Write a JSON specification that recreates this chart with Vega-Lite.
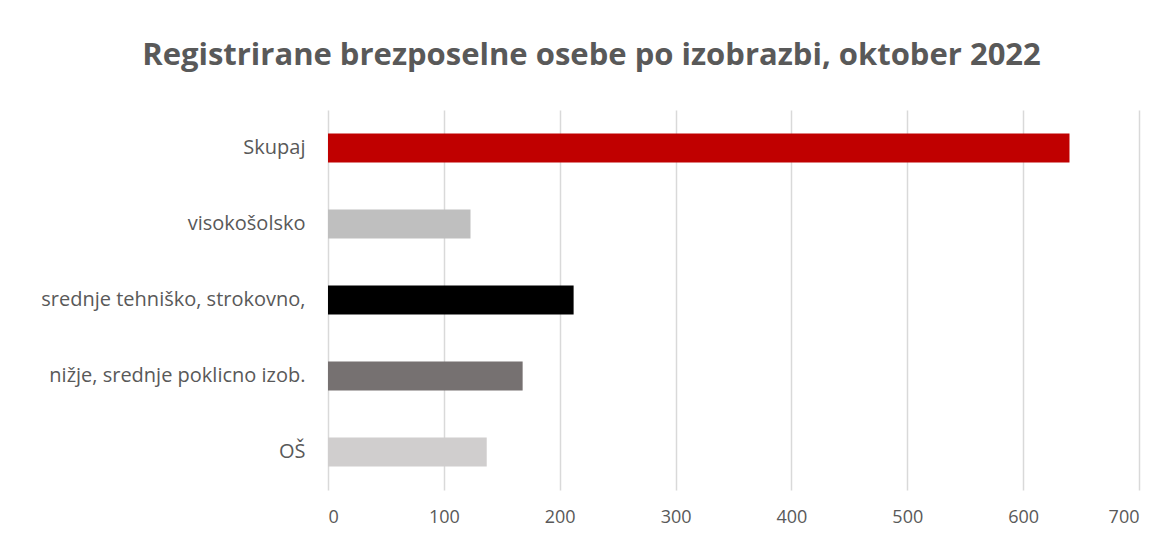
{
  "$schema": "https://vega.github.io/schema/vega-lite/v6.json",
  "width": 811,
  "height": 380,
  "autosize": {"type": "none"},
  "padding": {"left": 328, "top": 110, "right": 34, "bottom": 54},
  "background": "white",
  "title": {
    "text": "Registrirane brezposelne osebe po izobrazbi, oktober 2022",
    "anchor": "middle",
    "frame": "group",
    "dx": -142,
    "offset": 38,
    "fontSize": 31,
    "font": "Open Sans",
    "fontWeight": "bold",
    "color": "#595959"
  },
  "data": {
    "values": [
      {"izobrazba": "Skupaj", "stevilo": 640},
      {"izobrazba": "visokošolsko", "stevilo": 123},
      {"izobrazba": "srednje tehniško, strokovno,", "stevilo": 212},
      {"izobrazba": "nižje, srednje poklicno izob.", "stevilo": 168},
      {"izobrazba": "OŠ", "stevilo": 137}
    ]
  },
  "mark": {"type": "bar", "stroke": null},
  "encoding": {
    "y": {
      "field": "izobrazba",
      "type": "nominal",
      "sort": null,
      "scale": {"paddingInner": 0.62, "paddingOuter": 0.31},
      "axis": {
        "title": null,
        "domain": false,
        "ticks": false,
        "labelPadding": 23,
        "labelFont": "Open Sans",
        "labelFontSize": 20,
        "labelColor": "#595959",
        "labelLimit": 400
      }
    },
    "x": {
      "field": "stevilo",
      "type": "quantitative",
      "scale": {"domain": [0, 700], "nice": false},
      "axis": {
        "title": null,
        "values": [0, 100, 200, 300, 400, 500, 600, 700],
        "domain": false,
        "ticks": false,
        "grid": true,
        "gridColor": "#D9D9D9",
        "gridWidth": 1.5,
        "labelPadding": 18,
        "labelFont": "Open Sans",
        "labelFontSize": 18,
        "labelColor": "#595959"
      }
    },
    "color": {
      "field": "izobrazba",
      "type": "nominal",
      "scale": {
        "domain": ["Skupaj", "visokošolsko", "srednje tehniško, strokovno,", "nižje, srednje poklicno izob.", "OŠ"],
        "range": ["#C00000", "#BFBFBF", "#000000", "#767171", "#D0CECE"]
      },
      "legend": null
    }
  },
  "config": {"view": {"stroke": null}}
}
